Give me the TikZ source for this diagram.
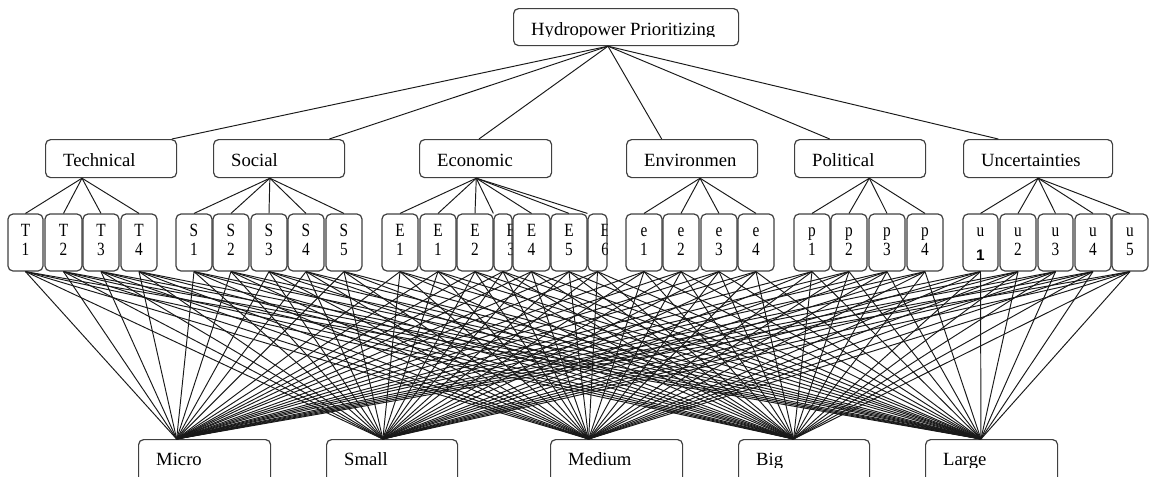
\documentclass[tikz,border=0pt]{standalone}
\usepackage{fontspec}
\setmainfont{Liberation Serif}
\newfontfamily\narrowserif[FakeStretch=0.82]{Liberation Serif}
\newfontfamily\sansone{Liberation Sans}
\usetikzlibrary{calc}
\tikzset{
  bigbox/.style={draw=black!75, line width=0.9pt, rounded corners=3.75pt, fill=white, inner sep=0pt},
  smallbox/.style={draw=black!75, line width=0.9pt, rounded corners=3.75pt, fill=white, inner sep=0pt,
    minimum height=42.75pt, align=center, font=\narrowserif\fontsize{14}{14.25}\selectfont},
  btxt/.style={anchor=base west, inner sep=0pt, minimum width=0pt, minimum height=0pt, draw=none, fill=none,
    font=\fontsize{14}{16}\selectfont},
  ntxt/.style={anchor=center, inner sep=0pt, minimum width=0pt, minimum height=0pt, draw=none, fill=none,
    align=center, font=\narrowserif\fontsize{14}{14.25}\selectfont},
  link/.style={draw=black!90, line width=0.72pt},
}
% text placed inside a box, clipped like the original text boxes
\newcommand\boxtext[3]{%
  \begin{scope}
  \clip[sharp corners] (path picture bounding box.north west) rectangle ([yshift=-21pt]path picture bounding box.north east);
  \node[btxt] (#1) at ([xshift=12.75pt,yshift=-#3]path picture bounding box.north west) {#2};
  \end{scope}}
% big box: name, left, top, right, bottom, text name, text, baseline offset
\newcommand\bb[8]{%
  \node[bigbox, anchor=north west, minimum width={(#4-#2)*0.75pt}, minimum height={(#5-#3)*0.75pt},
    path picture={\boxtext{#6}{#7}{#8}}] (#1) at (#2,#3) {};}
% small box: name, left, right, letter, digit
\newcommand\smb[5]{%
  \node[smallbox, minimum width={(#3-#2)*0.75pt}] (#1) at ({(#2+#3)/2},242.5) {\strut #4\\\strut #5};}
% narrow (clipped) small box: name, left, right, text name, letter, digit, xshift
\newcommand\nmb[7]{%
  \node[smallbox, minimum width={(#3-#2)*0.75pt},
    path picture={\node[ntxt] (#4) at ([xshift=#7]path picture bounding box.center) {\strut #5\\\strut #6};}]
    (#1) at ({(#2+#3)/2},242.5) {};}
\begin{document}
\begin{tikzpicture}[x=0.75pt, y=-0.75pt]
\clip (0,0) rectangle (1149,476);

% top
\bb{top}{513}{8}{738}{45}{topT}{Hydropower Prioritizing}{20.25pt}
% criteria
\bb{tech}{45}{139}{176}{177}{techT}{Technical}{20.25pt}
\bb{soc}{213}{139}{344}{177}{socT}{Social}{20.25pt}
\bb{eco}{419}{139}{551}{177}{ecoT}{Economic}{20.25pt}
\bb{env}{626}{139}{757}{177}{envT}{Environmen}{20.25pt}
\bb{pol}{794}{139}{925}{177}{polT}{Political}{20.25pt}
\bb{unc}{963}{139}{1112}{177}{uncT}{Uncertainties}{20.25pt}
% alternatives
\bb{micro}{138}{439}{270}{485}{microT}{Micro}{19.5pt}
\bb{small}{326}{439}{457}{485}{smallT}{Small}{19.5pt}
\bb{medium}{550}{439}{682}{485}{mediumT}{Medium}{19.5pt}
\bb{big}{738}{439}{869}{485}{bigT}{Big}{19.5pt}
\bb{large}{925}{439}{1057}{485}{largeT}{Large}{19.5pt}

% sub-criteria
\smb{T1}{8}{43}{T}{1}
\smb{T2}{45}{82}{T}{2}
\smb{T3}{83}{119}{T}{3}
\smb{T4}{121}{157}{T}{4}
\smb{S1}{176}{212}{S}{1}
\smb{S2}{213}{249}{S}{2}
\smb{S3}{251}{287}{S}{3}
\smb{S4}{288}{324}{S}{4}
\smb{S5}{326}{362}{S}{5}
\smb{E1a}{382}{418}{E}{1}
\smb{E1b}{420}{456}{E}{1}
\smb{E2}{457}{493}{E}{2}
\nmb{E3}{494}{512}{E3t}{E}{3}{6.2pt}
\smb{E4}{513}{550}{E}{4}
\smb{E5}{551}{587}{E}{5}
\nmb{E6}{588}{607}{E6t}{E}{6}{5.8pt}
\smb{en1}{626}{662}{e}{1}
\smb{en2}{663}{699}{e}{2}
\smb{en3}{701}{737}{e}{3}
\smb{en4}{738}{774}{e}{4}
\smb{p1}{794}{830}{p}{1}
\smb{p2}{831}{867}{p}{2}
\smb{p3}{869}{905}{p}{3}
\smb{p4}{907}{943}{p}{4}
\smb{u1}{963}{998}{u}{\raisebox{-3.5pt}{\sansone\bfseries\fontsize{11.5}{12}\selectfont 1}}
\smb{u2}{1000}{1036}{u}{2}
\smb{u3}{1038}{1073}{u}{3}
\smb{u4}{1075}{1111}{u}{4}
\smb{u5}{1112}{1148}{u}{5}

% connection points
\coordinate (topOut) at ($(top.south west)!0.42!(top.south east)$);
\coordinate (techIn) at ($(tech.north west)!0.96!(tech.north east)$);
\coordinate (socIn)  at ($(soc.north west)!0.88!(soc.north east)$);
\coordinate (ecoIn)  at ($(eco.north west)!0.45!(eco.north east)$);
\coordinate (envIn)  at ($(env.north west)!0.27!(env.north east)$);
\coordinate (polIn)  at ($(pol.north west)!0.27!(pol.north east)$);
\coordinate (uncIn)  at ($(unc.north west)!0.235!(unc.north east)$);
\coordinate (techOut) at ($(tech.south west)!0.28!(tech.south east)$);
\coordinate (socOut)  at ($(soc.south west)!0.43!(soc.south east)$);
\coordinate (ecoOut)  at ($(eco.south west)!0.43!(eco.south east)$);
\coordinate (envOut)  at ($(env.south west)!0.56!(env.south east)$);
\coordinate (polOut)  at ($(pol.south west)!0.57!(pol.south east)$);
\coordinate (uncOut)  at ($(unc.south west)!0.5!(unc.south east)$);
\coordinate (microIn)  at ($(micro.north west)!0.29!(micro.north east)$);
\coordinate (smallIn)  at ($(small.north west)!0.43!(small.north east)$);
\coordinate (mediumIn) at ($(medium.north west)!0.29!(medium.north east)$);
\coordinate (bigIn)    at ($(big.north west)!0.42!(big.north east)$);
\coordinate (largeIn)  at ($(large.north west)!0.42!(large.north east)$);

% goal to criteria
\foreach \c in {techIn, socIn, ecoIn, envIn, polIn, uncIn}
  \draw[link] (topOut) -- (\c);
% criteria to sub-criteria
\foreach \c in {T1.north, T2.north, T3.north, T4.north}
  \draw[link] (techOut) -- (\c);
\foreach \c in {S1.north, S2.north, S3.north, S4.north, S5.north}
  \draw[link] (socOut) -- (\c);
\foreach \c in {E1a.north, E1b.north, E2.north, E3.north west, E4.north, E5.north, E6.north west}
  \draw[link] (ecoOut) -- (\c);
\foreach \c in {en1.north, en2.north, en3.north, en4.north}
  \draw[link] (envOut) -- (\c);
\foreach \c in {p1.north, p2.north, p3.north, p4.north}
  \draw[link] (polOut) -- (\c);
\foreach \c in {u1.north, u2.north, u3.north, u4.north, u5.north}
  \draw[link] (uncOut) -- (\c);
% sub-criteria to alternatives
\foreach \s in {T1,T2,T3,T4,S1,S2,S3,S4,S5,E1a,E1b,E2,E3,E4,E5,E6,en1,en2,en3,en4,p1,p2,p3,p4,u1,u2,u3,u4,u5}
  \foreach \a in {microIn, smallIn, mediumIn, bigIn, largeIn}
    \draw[link] (\s.south) -- (\a);
\end{tikzpicture}
\end{document}
